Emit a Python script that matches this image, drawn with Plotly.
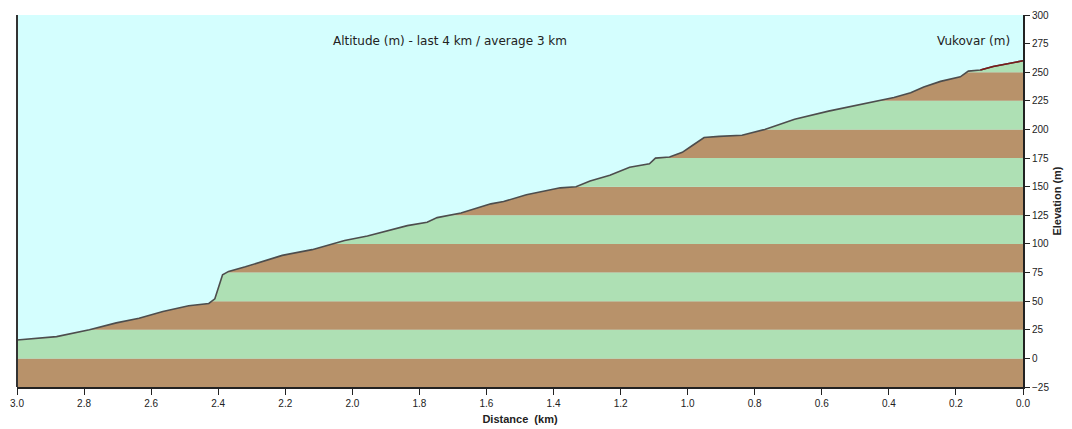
import plotly.graph_objects as go

# ---- data ----
distance_km = [3.000, 2.962, 2.882, 2.784, 2.704, 2.636, 2.565, 2.488, 2.428, 2.410,
               2.387, 2.369, 2.319, 2.209, 2.120, 2.023, 1.955, 1.836, 1.777, 1.747,
               1.676, 1.587, 1.549, 1.481, 1.380, 1.333, 1.291, 1.232, 1.173, 1.114,
               1.096, 1.054, 1.016, 0.986, 0.951, 0.906, 0.838, 0.770, 0.740, 0.681,
               0.580, 0.483, 0.385, 0.335, 0.296, 0.246, 0.187, 0.163, 0.127, 0.089,
               0.000]
elevation_m = [16, 17, 19, 25, 31, 35, 41, 46, 48, 52,
               73, 76, 80, 90, 95, 103, 107, 116, 119, 123,
               127, 135, 137, 143, 149, 150, 155, 160, 167, 170,
               175, 176, 180, 186, 193, 194, 195, 200, 203, 209,
               216, 222, 228, 232, 237, 242, 246, 251, 252, 255,
               260]
last_segment_from_km = 0.127

band_edges = [-25, 0, 25, 50, 75, 100, 125, 150, 175, 200, 225, 250, 275, 300]
band_colors = ["#B8926A", "#AEE0B4"]

x_ticks = [3.0, 2.8, 2.6, 2.4, 2.2, 2.0, 1.8, 1.6, 1.4, 1.2, 1.0, 0.8, 0.6, 0.4, 0.2, 0.0]
y_ticks = [-25, 0, 25, 50, 75, 100, 125, 150, 175, 200, 225, 250, 275, 300]

title_text = "Altitude (m) - last 4 km / average 3 km"
corner_text = "Vukovar (m)"

SKY = "#D4FEFE"
FONT = "Liberation Sans"

fig = go.Figure()

# stripe bands (below everything)
shapes = []
for i in range(len(band_edges) - 1):
    shapes.append(dict(type="rect", xref="paper", yref="y", x0=0, x1=1,
                       y0=band_edges[i], y1=band_edges[i + 1],
                       fillcolor=band_colors[i % 2], line_width=0, layer="below"))
# left frame line
shapes.append(dict(type="line", xref="paper", yref="paper", x0=0, x1=0, y0=0, y1=1,
                   line=dict(color="#333333", width=2)))

# sky fill above profile
fig.add_trace(go.Scatter(x=distance_km, y=elevation_m, mode="lines",
                         line=dict(color="rgba(0,0,0,0)", width=0),
                         hoverinfo="skip", showlegend=False))
fig.add_trace(go.Scatter(x=distance_km, y=[band_edges[-1]] * len(distance_km),
                         mode="lines", fill="tonexty", fillcolor=SKY,
                         line=dict(color=SKY, width=0),
                         hoverinfo="skip", showlegend=False))
# profile line
fig.add_trace(go.Scatter(x=distance_km, y=elevation_m, mode="lines",
                         line=dict(color="#4d4d4d", width=1.6), showlegend=False))
# last segment in dark red
seg_x = [d for d in distance_km if d <= last_segment_from_km]
seg_y = [e for d, e in zip(distance_km, elevation_m) if d <= last_segment_from_km]
fig.add_trace(go.Scatter(x=seg_x, y=seg_y, mode="lines",
                         line=dict(color="#7a1a1a", width=1.6), showlegend=False))

fig.update_layout(
    width=1072, height=429,
    margin=dict(l=9, r=57, t=7, b=50),
    paper_bgcolor="white", plot_bgcolor=SKY,
    shapes=shapes,
    font=dict(family=FONT, size=10, color="#222222"),
    xaxis=dict(range=[3.0, 0.0], tickvals=x_ticks, automargin=False,
               ticktext=[f"{v:.1f}" for v in x_ticks], ticklabeloverflow="allow",
               showgrid=False, zeroline=False, showline=True,
               linecolor="#222222", linewidth=2, ticks="outside", ticklen=6,
               tickcolor="#222222",
               title=dict(text="<b>Distance  (km)</b>", font=dict(size=11), standoff=7)),
    yaxis=dict(range=[-25, 300], tickvals=y_ticks, side="right", automargin=False,
               ticklabeloverflow="allow",
               showgrid=False, zeroline=False, showline=True,
               linecolor="#222222", linewidth=2, ticks="outside", ticklen=5,
               tickcolor="#222222",
               title=dict(text="<b>Elevation (m)</b>", font=dict(size=11), standoff=5)),
    annotations=[
        dict(text=title_text, xref="paper", yref="paper", x=0.43, y=0.955,
             showarrow=False, font=dict(family="DejaVu Sans", size=12, color="#222222")),
        dict(text=corner_text, xref="paper", yref="paper", x=0.989, y=0.955,
             xanchor="right", showarrow=False,
             font=dict(family="DejaVu Sans", size=12, color="#222222")),
    ],
)

fig.write_html("out.html")
